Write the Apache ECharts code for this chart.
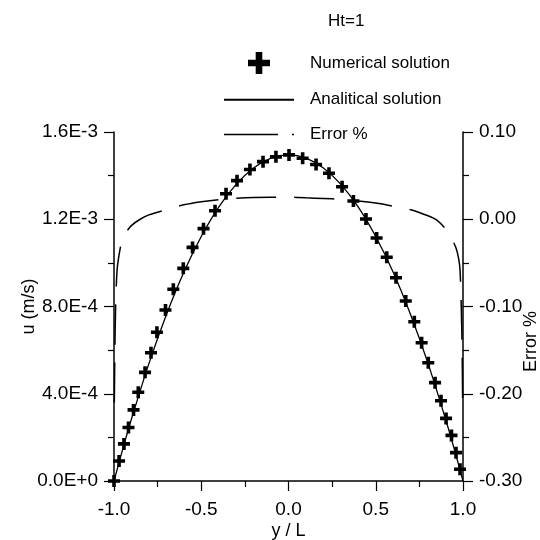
<!DOCTYPE html>
<html>
<head>
<meta charset="utf-8">
<script src="https://cdn.jsdelivr.net/npm/echarts@6/dist/echarts.min.js"></script>
<style>html,body{margin:0;padding:0;background:#fff}#c{width:540px;height:540px}</style>
</head>
<body>
<div id="c"></div>
<script>
// Numerical solution (crosses)
var numX = [-1.0, -0.971, -0.943, -0.917, -0.888, -0.861, -0.822, -0.788, -0.754, -0.705, -0.660, -0.603, -0.550, -0.487, -0.421, -0.358, -0.295, -0.221, -0.146, -0.072, 0.003,
            0.081, 0.158, 0.232, 0.307, 0.372, 0.444, 0.505, 0.563, 0.616, 0.672, 0.721, 0.763, 0.801, 0.840, 0.874, 0.903, 0.934, 0.960, 0.983];
var numU = [0.0, 9.2e-5, 1.70e-4, 2.45e-4, 3.26e-4, 4.07e-4, 4.98e-4, 5.88e-4, 6.82e-4, 7.84e-4, 8.79e-4, 9.75e-4, 1.071e-3, 1.157e-3, 1.239e-3, 1.317e-3, 1.377e-3, 1.428e-3, 1.464e-3, 1.486e-3, 1.495e-3,
            1.480e-3, 1.451e-3, 1.411e-3, 1.349e-3, 1.284e-3, 1.201e-3, 1.114e-3, 1.026e-3, 9.32e-4, 8.25e-4, 7.30e-4, 6.34e-4, 5.42e-4, 4.51e-4, 3.68e-4, 2.87e-4, 2.09e-4, 1.30e-4, 5.4e-5];
// Analytical solution (solid line)
var anaX = [-1.0, -0.95, -0.9, -0.8, -0.7, -0.6, -0.5, -0.4, -0.3, -0.2, -0.1, 0.0, 0.1, 0.2, 0.3, 0.4, 0.5, 0.6, 0.7, 0.8, 0.9, 0.95, 1.0];
var anaU = [0.0, 1.46e-4, 2.84e-4, 5.38e-4, 7.62e-4, 9.57e-4, 1.121e-3, 1.256e-3, 1.360e-3, 1.435e-3, 1.480e-3, 1.495e-3, 1.480e-3, 1.435e-3, 1.360e-3, 1.256e-3, 1.121e-3, 9.57e-4, 7.62e-4, 5.38e-4, 2.84e-4, 1.46e-4, 0.0];
// Error % (dashed line, right axis)
var errX = [-0.998, -0.995, -0.99, -0.983, -0.975, -0.956, -0.93, -0.899, -0.85, -0.8, -0.7, -0.6, -0.5, -0.4, -0.3, -0.2, -0.1, 0.0, 0.1, 0.2, 0.3, 0.4, 0.5, 0.6, 0.7, 0.8, 0.85, 0.9, 0.93, 0.96, 0.975, 0.983, 0.99, 0.995, 0.998];
var errV = [-0.21, -0.15, -0.095, -0.06, -0.046, -0.026, -0.015, -0.007, 0.0, 0.005, 0.011, 0.0165, 0.020, 0.0225, 0.024, 0.025, 0.0253, 0.0253, 0.0245, 0.0238, 0.0228, 0.021, 0.0185, 0.015, 0.011, 0.004, -0.001, -0.011, -0.02, -0.033, -0.045, -0.058, -0.1, -0.15, -0.21];
// Tick labels
var xTicks = ['-1.0', '-0.5', '0.0', '0.5', '1.0'];
var uTicks = ['0.0E+0', '4.0E-4', '8.0E-4', '1.2E-3', '1.6E-3'];
var errTicks = ['-0.30', '-0.20', '-0.10', '0.00', '0.10'];

function zip(a, b) { return a.map(function (v, i) { return [v, b[i]]; }); }

var FONT = 'Liberation Sans, Arial, sans-serif';
var CROSS = 'path://M7,0H13V7H20V13H13V20H7V13H0V7H7Z';
var axisCommon = {
  axisLine: { show: true, onZero: false, lineStyle: { color: '#000', width: 1.5 } },
  axisTick: { show: true, inside: false, length: 10, lineStyle: { color: '#000', width: 1.2 } },
  minorTick: { show: true, splitNumber: 2, length: 6, lineStyle: { color: '#000', width: 1.2 } },
  splitLine: { show: false },
  minorSplitLine: { show: false },
  nameMoveOverlap: false
};

var chart = echarts.init(document.getElementById('c'), null, { renderer: 'canvas' });
chart.setOption({
  backgroundColor: '#fff',
  animation: false,
  title: {
    text: 'Ht=1', left: 323, top: 8,
    textStyle: { fontFamily: FONT, fontSize: 17, fontWeight: 'normal', color: '#000' }
  },
  legend: {
    orient: 'vertical', left: 218, top: 47,
    itemWidth: 70, itemHeight: 22, itemGap: 17,
    textStyle: { fontFamily: FONT, fontSize: 17, color: '#000', padding: [0, 0, 0, 11] },
    data: [
      { name: 'Numerical solution', icon: CROSS, itemStyle: { color: '#000', opacity: 1 } },
      { name: 'Analitical solution', itemStyle: { opacity: 0 } },
      { name: 'Error %', itemStyle: { opacity: 0 }, lineStyle: { type: [54, 14, 2, 10], width: 1.5 } }
    ]
  },
  grid: { left: 114, right: 77, top: 132, bottom: 59, containLabel: false, outerBoundsMode: 'none' },
  xAxis: Object.assign({}, axisCommon, {
    type: 'value', min: -1, max: 1, interval: 0.5,
    name: 'y / L', nameLocation: 'middle', nameGap: 41,
    nameTextStyle: { fontFamily: FONT, fontSize: 18, color: '#000' },
    axisLabel: { margin: 19, fontFamily: FONT, fontSize: 19, color: '#000',
      formatter: function (v, i) { return xTicks[i]; } }
  }),
  yAxis: [
    Object.assign({}, axisCommon, {
      type: 'value', min: 0, max: 1.6e-3, interval: 4e-4, position: 'left',
      name: 'u (m/s)', nameLocation: 'middle', nameGap: 76, nameRotate: 90,
      nameTextStyle: { fontFamily: FONT, fontSize: 18, color: '#000' },
      axisLabel: { margin: 16, fontFamily: FONT, fontSize: 19, color: '#000',
        formatter: function (v, i) { return uTicks[i]; } }
    }),
    Object.assign({}, axisCommon, {
      type: 'value', min: -0.3, max: 0.1, interval: 0.1, position: 'right',
      name: 'Error %', nameLocation: 'middle', nameGap: 59, nameRotate: 90,
      nameTextStyle: { fontFamily: FONT, fontSize: 18, color: '#000', padding: [0, 70, 0, 0] },
      axisLabel: { margin: 16, fontFamily: FONT, fontSize: 19, color: '#000',
        formatter: function (v, i) { return errTicks[i]; } }
    })
  ],
  series: [
    {
      name: 'Error %', type: 'line', yAxisIndex: 1, data: zip(errX, errV),
      symbol: 'none', smooth: 0.3, z: 2,
      lineStyle: { color: '#000', width: 1.5, type: [40, 18] }
    },
    {
      name: 'Analitical solution', type: 'line', data: zip(anaX, anaU),
      symbol: 'none', smooth: 0.3, z: 3,
      lineStyle: { color: '#000', width: 1.3 }
    },
    {
      name: 'Numerical solution', type: 'scatter', data: zip(numX, numU),
      symbol: CROSS, symbolSize: 12, clip: false, z: 4,
      itemStyle: { color: '#000', opacity: 1 }
    }
  ]
});
</script>
</body>
</html>
